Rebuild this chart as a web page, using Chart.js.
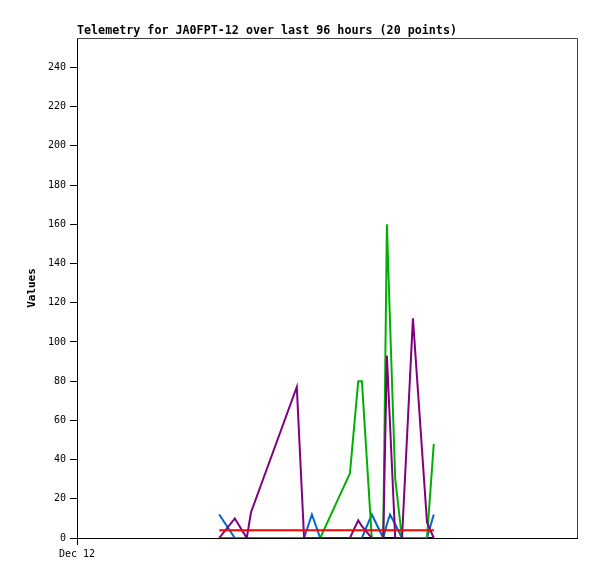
<!DOCTYPE html>
<html>
<head>
<meta charset="utf-8">
<script src="https://cdn.jsdelivr.net/npm/chart.js@4"></script>
<style>
    html, body { margin: 0; padding: 0; background: #fff; }
    #wrap { width: 597px; height: 579px; }
</style>
</head>
<body>
<div id="wrap"><canvas id="telemetryChart" width="597" height="579"></canvas></div>
<script>
// Sample times, hours after Dec 12 00:00
const hours = [27.3, 30.3, 32.6, 33.4, 42.2, 43.6, 45.1, 46.7, 52.4, 54.0,
               54.7, 56.6, 58.8, 59.5, 60.1, 61.1, 62.4, 64.5, 67.2, 68.5];

// Telemetry channels (20 points each)
const chBlack  = [0, 0, 0, 0, 0, 0, 0, 0, 0, 0, 0, 0, 0, 0, 0, 0, 0, 0, 0, 0];
const chRed    = [4, 4, 4, 4, 4, 4, 4, 4, 4, 4, 4, 4, 4, 4, 4, 4, 4, 4, 4, 4];
const chBlue   = [12, 0, 0, 0, 0, 0, 12, 0, 0, 0, 0, 12, 0, 7, 12, 7, 0, 0, 0, 12];
const chGreen  = [0, 0, 0, 0, 0, 0, 0, 0, 33, 80, 80, 0, 0, 160, 110, 30, 0, 0, 0, 48];
const chPurple = [0, 10, 0, 13, 77, 0, 0, 0, 0, 9, 6, 0, 0, 93, 58, 0, 0, 112, 8, 0];

const yTicks = [0, 20, 40, 60, 80, 100, 120, 140, 160, 180, 200, 220, 240];
const xLabel = 'Dec 12';
const titleText = 'Telemetry for JA0FPT-12 over last 96 hours (20 points)';

const monoFont = '"DejaVu Sans Mono", "Liberation Mono", monospace';

function series(values) {
    return values.map((v, i) => ({ x: hours[i], y: v }));
}

// Title, y label and the grey frame
const decorations = {
    id: 'decorations',
    afterDraw(chart) {
        const ctx = chart.ctx;
        const area = chart.chartArea;
        ctx.save();
        ctx.strokeStyle = '#444';
        ctx.lineWidth = 1;
        ctx.beginPath();
        ctx.moveTo(area.left, area.top + 0.5);
        ctx.lineTo(area.right + 0.5, area.top + 0.5);
        ctx.lineTo(area.right + 0.5, area.bottom);
        ctx.stroke();

        ctx.fillStyle = '#000';
        ctx.font = 'bold 11.7px ' + monoFont;
        ctx.textBaseline = 'middle';
        ctx.textAlign = 'left';
        ctx.fillText(titleText, area.left, 31);

        ctx.translate(32, (area.top + area.bottom) / 2);
        ctx.rotate(-Math.PI / 2);
        ctx.textAlign = 'center';
        ctx.font = 'bold 11px ' + monoFont;
        ctx.fillText('Values', 0, 0);
        ctx.restore();
    }
};

const lineStyle = { borderWidth: 2, pointRadius: 0, tension: 0, fill: false };

const ctx = document.getElementById('telemetryChart').getContext('2d');
new Chart(ctx, {
    type: 'line',
    data: {
        datasets: [
            { label: 'ch5', data: series(chPurple), borderColor: '#800080', order: 1, ...lineStyle },
            { label: 'ch4', data: series(chGreen), borderColor: '#00b000', order: 2, ...lineStyle },
            { label: 'ch3', data: series(chBlue), borderColor: '#0066cc', order: 3, ...lineStyle },
            { label: 'ch2', data: series(chRed), borderColor: '#ff0000', order: 0, ...lineStyle },
            { label: 'ch1', data: series(chBlack), borderColor: '#000000', order: 4, ...lineStyle }
        ]
    },
    options: {
        responsive: false,
        animation: false,
        events: [],
        layout: { padding: { top: 38, right: 20, left: 0, bottom: 0 } },
        plugins: {
            legend: { display: false },
            tooltip: { enabled: false },
            title: { display: false }
        },
        scales: {
            x: {
                type: 'linear',
                min: 0,
                max: 96,
                afterBuildTicks(scale) {
                    scale.ticks = [{ value: 0 }];
                },
                afterFit(scale) { scale.height = 41; },
                ticks: {
                    color: '#000',
                    font: { family: monoFont, size: 10 },
                    maxRotation: 0,
                    padding: 3,
                    callback: () => xLabel
                },
                grid: { drawOnChartArea: false, tickLength: 7, color: '#000' },
                border: { color: '#000', width: 1 }
            },
            y: {
                min: 0,
                max: 255,
                afterBuildTicks(scale) {
                    scale.ticks = yTicks.map(v => ({ value: v }));
                },
                afterFit(scale) { scale.width = 77; },
                ticks: {
                    color: '#000',
                    font: { family: monoFont, size: 10 },
                    padding: 4
                },
                grid: { drawOnChartArea: false, tickLength: 7, color: '#000' },
                border: { color: '#000', width: 1 }
            }
        }
    },
    plugins: [decorations]
});
</script>
</body>
</html>
